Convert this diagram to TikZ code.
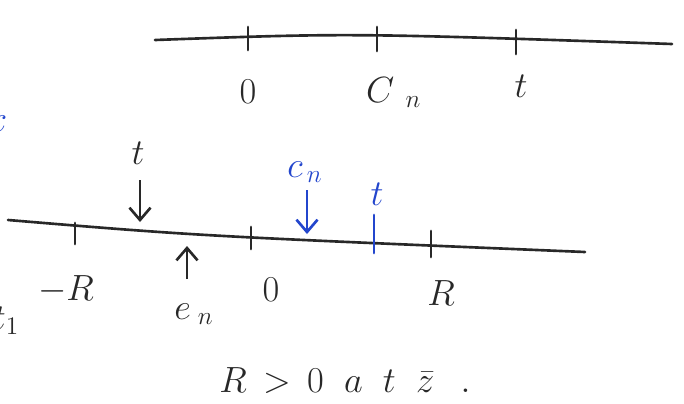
\documentclass[tikz,border=0pt]{standalone}
\usepackage{xcolor}
\usepackage{amsmath}
\usetikzlibrary{arrows.meta, positioning, calc}
\definecolor{inkdark}{RGB}{40,40,40}
\definecolor{inkblue}{RGB}{35,70,205}
\tikzset{
  axis/.style={line width=1.5pt, color=inkdark, line cap=round},
  tick/.style={line width=1.7pt, color=inkdark, line cap=round},
  bluetick/.style={line width=1.7pt, color=inkblue, line cap=round},
  lbl/.style={font=\huge, color=inkdark, inner sep=1pt},
  bluelbl/.style={font=\huge, color=inkblue, inner sep=1pt},
  pointer/.style={-{Straight Barb[length=7pt,width=12pt]}, line width=1.5pt, color=inkdark},
  bluepointer/.style={-{Straight Barb[length=7pt,width=12pt]}, line width=1.5pt, color=inkblue}
}
\begin{document}
\begin{tikzpicture}[x=0.02cm, y=-0.02cm]
  \clip (0,0) rectangle (684,403);
  \fill[white] (0,0) rectangle (684,403);

  % upper line
  \coordinate (ua) at (155,40);
  \coordinate (ub) at (672,44);
  \draw[axis] (ua) .. controls (350,33) .. (ub);
  \draw[tick] (248,27) -- (248,50);
  \draw[tick] (377,27) -- (377,51);
  \draw[tick] (516,30) -- (516,54);
  \node[lbl] (uzero) at (248,92) {$0$};
  \node[lbl, anchor=base west] (ucn) at (364,102) {$C_{\;\;n}$};
  \node[lbl] (ut) at (521,86) {$t$};

  % lower line
  \coordinate (la) at (8,220);
  \coordinate (lb) at (585,252);
  \draw[axis] (la) .. controls (200,236) .. (lb);
  \draw[tick] (75,223) -- (75,244);
  \draw[tick] (251,227) -- (251,249);
  \draw[bluetick] (374,215) -- (374,253);
  \draw[tick] (431,231) -- (431,257);
  \node[lbl] (lmr) at (66,290) {$-R$};
  \node[lbl] (lzero) at (271,290) {$0$};
  \node[lbl] (lr) at (441,293) {$R$};

  % pointers
  \node[lbl] (lt) at (138,153) {$t$};
  \coordinate (lta) at (140,180);
  \coordinate (ltb) at (140,222);
  \draw[pointer] (lta) -- (ltb);

  \node[lbl] (lcn) at (194,314) {$e_{\;n}$};
  \coordinate (lcna) at (187,279);
  \coordinate (lcnb) at (187,246);
  \draw[pointer] (lcna) -- (lcnb);

  \node[bluelbl] (bcn) at (305,172) {$c_{\,n}$};
  \coordinate (bcna) at (307,190);
  \coordinate (bcnb) at (307,234);
  \draw[bluepointer] (bcna) -- (bcnb);
  \node[bluelbl] (bt) at (377,194) {$t$};

  % cut-off marks at the left edge
  \node[bluelbl] (edgeb) at (-3,124) {$x$};
  \node[lbl] (edgek) at (6,321) {$t_1$};

  % note
  \node[lbl] (note) at (345,381) {$R \,>\, 0\;\; a\;\; t\;\; \bar{z}\;\;\, .$};
\end{tikzpicture}
\end{document}
